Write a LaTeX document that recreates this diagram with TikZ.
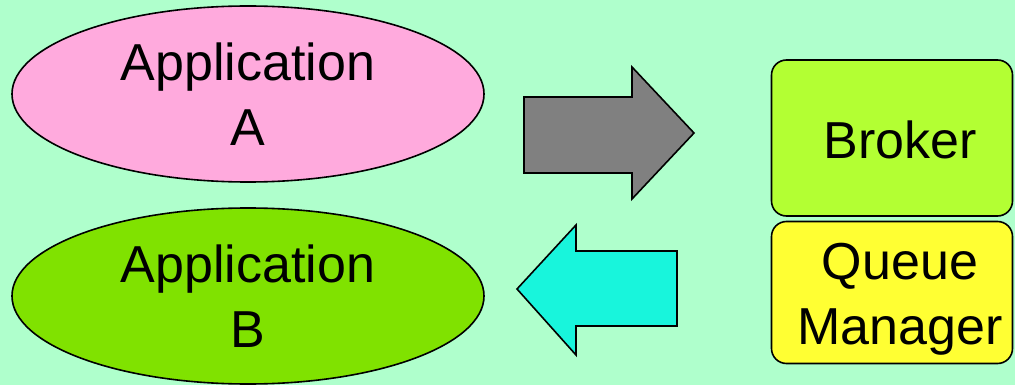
\documentclass[tikz,border=0pt]{standalone}
\usepackage{fontspec}
\setmainfont{Liberation Sans}
\usetikzlibrary{shapes.geometric}

\definecolor{fondo}{RGB}{175,255,204}
\definecolor{rosa}{RGB}{255,170,221}
\definecolor{verdeapp}{RGB}{128,226,0}
\definecolor{gris}{RGB}{128,128,128}
\definecolor{cian}{RGB}{24,245,220}
\definecolor{lima}{RGB}{179,255,51}
\definecolor{amarillo}{RGB}{255,255,51}

\tikzset{
  texto/.style={font=\fontsize{52}{65}\selectfont, align=center},
  app/.style={ellipse, draw, line width=1.6pt, minimum width=472pt,
    minimum height=176pt, inner sep=0pt, texto},
  caja/.style={draw, line width=1.6pt, rounded corners=15pt,
    minimum width=241pt, inner sep=0pt},
  flecha/.style={draw, line width=1.6pt, line join=miter},
}

\begin{document}
\begin{tikzpicture}[x=1pt, y=-1pt]
  % Fondo
  \fill[fondo] (0,0) rectangle (1015,385);

  % Aplicaciones
  \node[app, fill=rosa] (appA) at (248,94) {Application\\A};
  \node[app, fill=verdeapp] (appB) at (248,296) {Application\\B};

  % Broker y gestor de colas
  \node[caja, fill=lima, minimum height=156pt,
    label={[texto, xshift=8pt, yshift=-2pt]center:Broker}] (broker) at (892,138) {};
  \node[caja, fill=amarillo, minimum height=142pt,
    label={[texto, xshift=8pt, yshift=-7pt]center:Queue\\Manager}] (qmgr) at (892,292.5) {};

  % Flecha de ida
  \draw[flecha, fill=gris] (524,97) -- (632,97) -- (632,67) -- (694,133)
    -- (632,199) -- (632,173) -- (524,173) -- cycle;

  % Flecha de vuelta
  \draw[flecha, fill=cian] (677,251) -- (576,251) -- (576,225) -- (517,289)
    -- (576,355) -- (576,326) -- (677,326) -- cycle;
\end{tikzpicture}
\end{document}
